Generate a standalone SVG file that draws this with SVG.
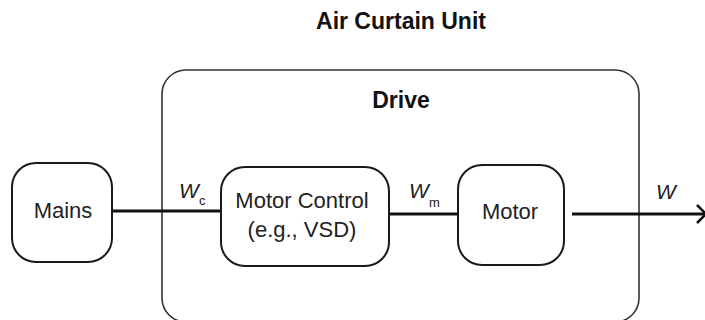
<svg xmlns="http://www.w3.org/2000/svg" width="705" height="320" viewBox="0 0 705 320">
<style>
.box{fill:#fff;stroke:#1a1a1a;stroke-width:2}
.outer{fill:none;stroke:#333;stroke-width:1.6}
.lbl{font-family:"Liberation Sans",Arial,sans-serif;font-size:22px;fill:#222;text-anchor:middle}
.ttl{font-family:"Liberation Sans",Arial,sans-serif;font-size:23px;font-weight:bold;fill:#111;text-anchor:middle}
.var{font-family:"Liberation Sans",Arial,sans-serif;font-size:21px;font-style:italic;fill:#222}
.sub{font-family:"Liberation Sans",Arial,sans-serif;font-size:13px;fill:#222}
.conn{stroke:#111;stroke-width:3;fill:none}
</style>
<defs>
<marker id="arr" markerWidth="14" markerHeight="22" refX="10" refY="10" orient="auto" markerUnits="userSpaceOnUse">
<path d="M1,1 L10,10 L1,19" fill="none" stroke="#111" stroke-width="2.5"/>
</marker>
</defs>
<rect width="705" height="320" fill="#fff"/>
<text class="ttl" x="401" y="29">Air Curtain Unit</text>
<g id="drive">
<rect class="outer" x="162" y="70" width="477" height="252" rx="24"/>
<text class="ttl" x="401" y="108">Drive</text>
</g>
<g id="connectors">
<line class="conn" x1="112" y1="211" x2="221" y2="211"/>
<line class="conn" x1="389" y1="214" x2="458" y2="214"/>
<line class="conn" x1="572" y1="214" x2="706" y2="214" marker-end="url(#arr)"/>
<text class="var" x="179" y="198">W</text><text class="sub" x="199" y="205">c</text>
<text class="var" x="409" y="198">W</text><text class="sub" x="429" y="207">m</text>
<text class="var" x="656" y="199">W</text>
</g>
<g id="mains">
<rect class="box" x="12" y="163" width="100" height="99" rx="24"/>
<text class="lbl" x="63" y="218">Mains</text>
</g>
<g id="motor-control">
<rect class="box" x="221" y="167" width="168" height="99" rx="24"/>
<text class="lbl" x="302" y="208">Motor Control</text>
<text class="lbl" x="302" y="237">(e.g., VSD)</text>
</g>
<g id="motor">
<rect class="box" x="458" y="165" width="106" height="100" rx="24"/>
<text class="lbl" x="510" y="219">Motor</text>
</g>
</svg>
